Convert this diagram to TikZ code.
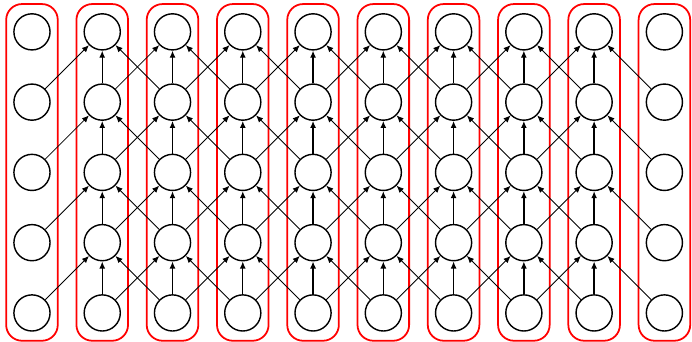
\documentclass[tikz,border=0pt]{standalone}
\usepackage{tikz}
\usetikzlibrary{arrows.meta,fit}

\begin{document}
\begin{tikzpicture}[
  x=1.4cm, y=1.4cm,
  unit/.style   = {draw, circle, line width=0.8pt, minimum size=0.72cm, inner sep=0pt},
  colbox/.style = {draw=red, line width=1pt, rounded corners=9pt,
                   inner xsep=0.14cm, inner ysep=0.18cm},
  up/.style     = {-{Latex[length=4pt,width=3.4pt]}, line width=0.75pt},
  cross/.style  = {-{Latex[length=4pt,width=3.4pt]}, line width=0.5pt}
]
\useasboundingbox (-0.637cm,-0.578cm) rectangle (13.15cm,6.235cm);
% units, one column per time step
\foreach \i in {0,...,9}{
  \foreach \j in {0,...,4}{
    \node[unit] (n-\i-\j) at (\i,\j) {};
  }
  \node[colbox, fit=(n-\i-0)(n-\i-4)] (col-\i) {};
}
% connections into the inner columns
\foreach \i [evaluate=\i as \l using int(\i-1),
             evaluate=\i as \r using int(\i+1)] in {1,...,8}{
  \foreach \j [evaluate=\j as \b using int(\j-1)] in {1,...,4}{
    \draw[up]    (n-\i-\b) -- (n-\i-\j);
    \draw[cross] (n-\l-\b) -- (n-\i-\j);
    \draw[cross] (n-\r-\b) -- (n-\i-\j);
  }
}
\end{tikzpicture}
\end{document}
